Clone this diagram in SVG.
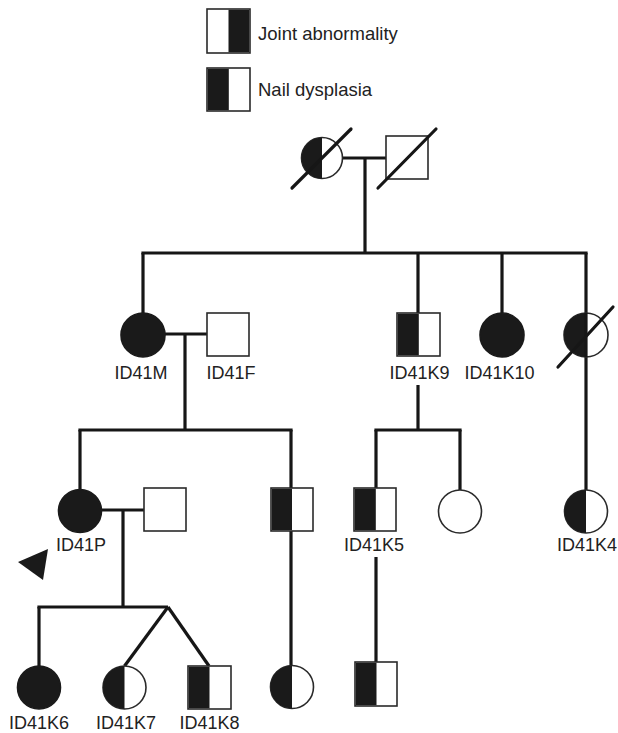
<svg xmlns="http://www.w3.org/2000/svg" width="618" height="733" viewBox="0 0 618 733">
<style>
.ln{stroke:#161616;stroke-width:3.2;fill:none;stroke-linecap:butt}
.sl{stroke:#161616;stroke-width:3.2;fill:none;stroke-linecap:round}
.sym{fill:#fff;stroke:#2a2a2a;stroke-width:1.6}
.blk{fill:#1a1a1a;stroke:none}
.full{fill:#1a1a1a;stroke:#1a1a1a;stroke-width:1.6}
.lbl{font-family:"Liberation Sans",Arial,sans-serif;font-size:18px;fill:#222;text-anchor:middle}
.leg{font-family:"Liberation Sans",Arial,sans-serif;font-size:18.5px;fill:#222}
</style>
<rect width="618" height="733" fill="#fff"/>
<g id="legend">
  <rect class="sym" x="207" y="9" width="43" height="44"/>
  <rect class="blk" x="228.5" y="9.8" width="20.7" height="42.4"/>
  <text class="leg" x="258" y="40">Joint abnormality</text>
  <rect class="sym" x="207" y="68" width="43" height="43"/>
  <rect class="blk" x="207.8" y="68.8" width="21" height="41.4"/>
  <text class="leg" x="258" y="96">Nail dysplasia</text>
</g>
<g id="connectors">
  <line class="ln" x1="342" y1="158" x2="386" y2="158"/>
  <line class="ln" x1="365" y1="158" x2="365" y2="253"/>
  <line class="ln" x1="141.4" y1="253" x2="587.6" y2="253"/>
  <line class="ln" x1="143" y1="253" x2="143" y2="313"/>
  <line class="ln" x1="418" y1="253" x2="418" y2="313"/>
  <line class="ln" x1="502" y1="253" x2="502" y2="313"/>
  <line class="ln" x1="586" y1="253" x2="586" y2="490"/>
  <line class="ln" x1="165" y1="334" x2="207" y2="334"/>
  <line class="ln" x1="185" y1="334" x2="185" y2="430"/>
  <line class="ln" x1="78.4" y1="430" x2="292.6" y2="430"/>
  <line class="ln" x1="80" y1="430" x2="80" y2="490"/>
  <line class="ln" x1="291" y1="430" x2="291" y2="665"/>
  <line class="ln" x1="418" y1="385" x2="418" y2="430"/>
  <line class="ln" x1="374.4" y1="430" x2="461.6" y2="430"/>
  <line class="ln" x1="376" y1="430" x2="376" y2="488"/>
  <line class="ln" x1="460" y1="430" x2="460" y2="490"/>
  <line class="ln" x1="102" y1="510" x2="144" y2="510"/>
  <line class="ln" x1="123" y1="510" x2="123" y2="607"/>
  <line class="ln" x1="37.4" y1="607" x2="168" y2="607"/>
  <line class="ln" x1="39" y1="607" x2="39" y2="666"/>
  <line class="ln" x1="168" y1="607" x2="124.5" y2="666"/>
  <line class="ln" x1="168" y1="607" x2="209" y2="666"/>
  <line class="ln" x1="376" y1="557" x2="376" y2="662"/>
</g>
<g id="gen1_mother">
  <circle class="sym" cx="322" cy="158" r="20.5"/>
  <path class="blk" d="M322,137.5 A20.5,20.5 0 0 0 322,178.5 Z"/>
  <line class="sl" x1="292" y1="188" x2="351" y2="129"/>
</g>
<g id="gen1_father">
  <rect class="sym" x="386" y="136" width="42" height="43"/>
  <line class="sl" x1="378" y1="188" x2="436" y2="129"/>
</g>
<g id="ID41M">
  <circle class="full" cx="143" cy="335" r="22"/>
  <text class="lbl" x="141" y="379">ID41M</text>
</g>
<g id="ID41F">
  <rect class="sym" x="207" y="313" width="42" height="43"/>
  <text class="lbl" x="231" y="379">ID41F</text>
</g>
<g id="ID41K9">
  <rect class="sym" x="397" y="313" width="43" height="43"/>
  <rect class="blk" x="397.8" y="313.8" width="21" height="41.4"/>
  <text class="lbl" x="419.5" y="379">ID41K9</text>
</g>
<g id="ID41K10">
  <circle class="full" cx="502" cy="335" r="22"/>
  <text class="lbl" x="499.5" y="379">ID41K10</text>
</g>
<g id="gen2_deceased_female">
  <circle class="sym" cx="586" cy="335" r="22"/>
  <path class="blk" d="M586,313 A22,22 0 0 0 586,357 Z"/>
  <line x1="586" y1="313" x2="586" y2="357" stroke="#161616" stroke-width="3.2"/>
  <line class="sl" x1="558" y1="367" x2="613" y2="307"/>
</g>
<g id="ID41P">
  <circle class="full" cx="80" cy="511" r="21.5"/>
  <text class="lbl" x="81" y="551">ID41P</text>
  <polygon class="blk" points="18,562 48,549 43,580"/>
</g>
<g id="ID41P_spouse">
  <rect class="sym" x="144" y="488" width="42" height="43"/>
</g>
<g id="gen3_male">
  <rect class="sym" x="271" y="488" width="42" height="43"/>
  <rect class="blk" x="271.8" y="488.8" width="20.2" height="41.4"/>
</g>
<g id="ID41K5">
  <rect class="sym" x="354" y="488" width="42" height="43"/>
  <rect class="blk" x="354.8" y="488.8" width="21" height="41.4"/>
  <text class="lbl" x="374" y="551">ID41K5</text>
</g>
<g id="gen3_female">
  <circle class="sym" cx="460" cy="511.5" r="21.5"/>
</g>
<g id="ID41K4">
  <circle class="sym" cx="586" cy="511.5" r="21.5"/>
  <path class="blk" d="M586,490 A21.5,21.5 0 0 0 586,533 Z"/>
  <text class="lbl" x="587" y="551">ID41K4</text>
</g>
<g id="ID41K6">
  <circle class="full" cx="39" cy="687.5" r="21.5"/>
  <text class="lbl" x="39" y="729">ID41K6</text>
</g>
<g id="ID41K7">
  <circle class="sym" cx="124.5" cy="687.5" r="21.5"/>
  <path class="blk" d="M124.5,666 A21.5,21.5 0 0 0 124.5,709 Z"/>
  <text class="lbl" x="126" y="729">ID41K7</text>
</g>
<g id="ID41K8">
  <rect class="sym" x="188" y="666" width="43" height="43"/>
  <rect class="blk" x="188.8" y="666.8" width="20.7" height="41.4"/>
  <text class="lbl" x="209.5" y="729">ID41K8</text>
</g>
<g id="gen4_female">
  <circle class="sym" cx="292" cy="687" r="21.5"/>
  <path class="blk" d="M292,665.5 A21.5,21.5 0 0 0 292,708.5 Z"/>
</g>
<g id="gen4_male">
  <rect class="sym" x="355" y="662" width="42" height="44"/>
  <rect class="blk" x="355.8" y="662.8" width="20.7" height="42.4"/>
</g>
</svg>
